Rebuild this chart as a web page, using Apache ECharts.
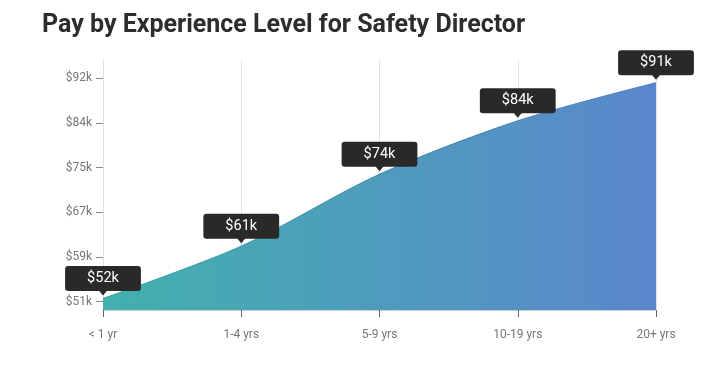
<!DOCTYPE html>
<html>
<head>
<meta charset="utf-8">
<script src="https://cdn.jsdelivr.net/npm/echarts@6/dist/echarts.min.js"></script>
<style>
html,body{margin:0;padding:0;background:#fff;}
#c{width:722px;height:375px;}
</style>
</head>
<body>
<div id="c"></div>
<script>
const titleText = 'Pay by Experience Level for Safety Director';
const categories = ['< 1 yr', '1-4 yrs', '5-9 yrs', '10-19 yrs', '20+ yrs'];
const payValues = [51.6, 61.2, 74.4, 84.2, 91.2];
const payLabels = ['$52k', '$61k', '$74k', '$84k', '$91k'];
const yTickValues = [51, 59.2, 67.4, 75.6, 83.8, 92];
const yTickLabels = ['$51k', '$59k', '$67k', '$75k', '$84k', '$92k'];

const chart = echarts.init(document.getElementById('c'));
const grad = new echarts.graphic.LinearGradient(0, 0, 1, 0, [
  {offset: 0, color: '#3badab'},
  {offset: 1, color: '#5482ca'}
]);
const lineGrad = new echarts.graphic.LinearGradient(0, 0, 1, 0, [
  {offset: 0, color: '#2f9c9c'},
  {offset: 1, color: '#4a76bd'}
]);
function nearestLabel(v) {
  let best = 0;
  for (let i = 1; i < yTickValues.length; i++) {
    if (Math.abs(yTickValues[i] - v) < Math.abs(yTickValues[best] - v)) best = i;
  }
  return yTickLabels[best];
}
chart.setOption({
  animation: false,
  title: {
    text: titleText,
    left: 37, top: 8,
    textStyle: {fontFamily: 'Roboto', fontWeight: 'bold', fontSize: 25, color: '#2d2d2d'}
  },
  grid: {left: 103, right: 66, top: 60, bottom: 65},
  xAxis: {
    type: 'category',
    data: categories,
    boundaryGap: false,
    axisLine: {show: true, lineStyle: {color: '#d0d0d0', width: 1}},
    axisTick: {show: true, length: 7, lineStyle: {color: '#666'}},
    axisLabel: {color: '#777', fontFamily: 'Roboto', fontSize: 12, margin: 19},
    splitLine: {show: true, lineStyle: {color: '#e3e3e3', width: 1}}
  },
  yAxis: {
    type: 'value',
    min: 49.48,
    max: 95.36,
    axisLine: {show: true, lineStyle: {color: '#e0e0e0', width: 1}},
    axisTick: {show: true, length: 7, customValues: yTickValues, lineStyle: {color: '#888'}},
    axisLabel: {
      customValues: yTickValues,
      color: '#777', fontFamily: 'Roboto', fontSize: 12, margin: 11,
      formatter: function (v) { return nearestLabel(v); }
    },
    splitLine: {show: false}
  },
  series: [
    {
      type: 'line',
      data: payValues,
      smooth: 0.3,
      symbol: 'none',
      lineStyle: {color: lineGrad, width: 1},
      areaStyle: {color: grad, opacity: 0.96},
      z: 2
    },
    {
      type: 'scatter',
      data: payValues,
      symbol: 'triangle',
      symbolRotate: 180,
      symbolSize: [10, 6],
      symbolOffset: [0, -6],
      itemStyle: {color: '#2b2828', opacity: 1},
      z: 5,
      silent: true
    },
    {
      type: 'scatter',
      data: payValues,
      symbolSize: 1,
      itemStyle: {color: 'rgba(0,0,0,0)', opacity: 1},
      label: {
        show: true,
        position: 'top',
        distance: 7,
        formatter: function (p) { return payLabels[p.dataIndex]; },
        backgroundColor: '#2b2828',
        borderRadius: 3,
        padding: [5, 22, 5, 22],
        color: '#fff',
        fontFamily: 'Roboto',
        fontSize: 14.5,
        lineHeight: 15
      },
      z: 6,
      silent: true
    }
  ]
});
</script>
</body>
</html>
